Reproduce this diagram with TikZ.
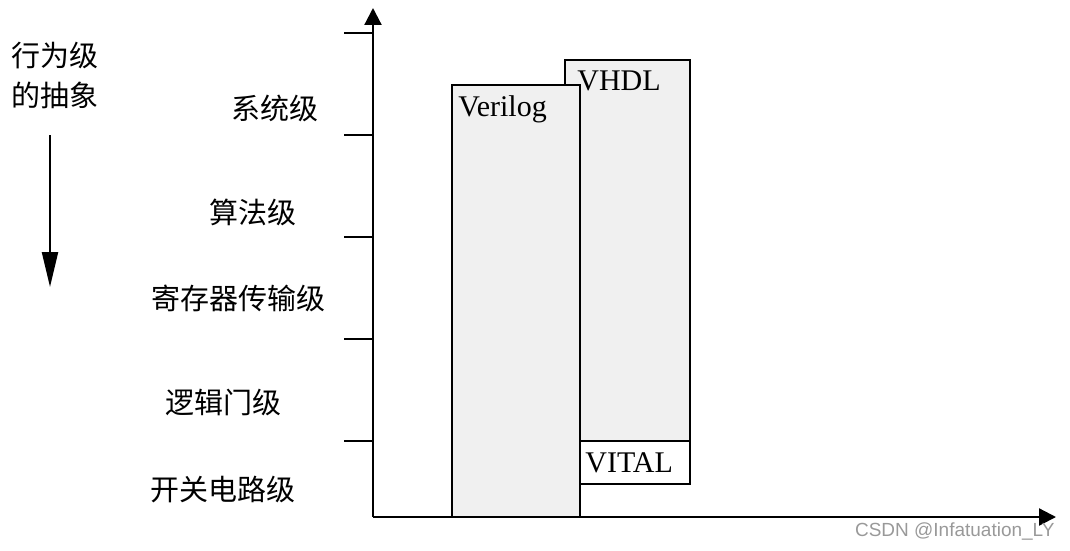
\documentclass[tikz,border=0pt]{standalone}
\usepackage{fontspec}
\setmainfont{Liberation Serif}
\newfontfamily\cjk{Noto Sans CJK SC}
\newfontfamily\wmfont{Liberation Sans}
\usetikzlibrary{arrows.meta}

\definecolor{boxgray}{HTML}{F0F0F0}

\tikzset{
    level/.style = {
        font=\cjk\fontsize{14.5}{20}\selectfont,
        inner sep=0pt
    },
    langbox/.style = {
        rectangle,
        anchor=north west,
        inner sep=0pt,
        outer sep=0pt,
        line width=1.1pt,
        draw=black,
        fill=boxgray
    },
    langname/.style = {
        anchor=north west,
        inner sep=0pt,
        font=\fontsize{15}{17}\selectfont
    },
    axis/.style = {
        line width=1.1pt,
        -{Triangle[width=8.5pt,length=8.5pt]}
    },
    downarrow/.style = {
        line width=1.1pt,
        -{Triangle[width=8pt,length=17.5pt]}
    }
}

\begin{document}
\begin{tikzpicture}[x=0.5pt, y=-0.5pt]
\useasboundingbox (0,0) rectangle (1070,551);

% Axes
\coordinate (origin) at (373,517);
\coordinate (ytop) at (373,8);
\coordinate (xend) at (1056,517);
\draw [axis] (origin) -- (ytop);
\draw [axis] (origin) -- (xend);
\foreach \y in {33,135,237,339,441}
    \draw [line width=1.1pt] (344,\y) -- (373,\y);

% Abstraction direction
\node (abs) [level, align=left] at (55,75) {行为级\\的抽象};
\coordinate (dtop) at (50,135);
\coordinate (dbot) at (50,287);
\draw [downarrow] (dtop) -- (dbot);

% Levels
\node (sys) [level] at (275,108) {系统级};
\node (alg) [level] at (253,212) {算法级};
\node (rtl) [level] at (238,298) {寄存器传输级};
\node (gate) [level] at (223,402) {逻辑门级};
\node (sw) [level] at (223,490) {开关电路级};

% Languages
\node (vhdl) [langbox, minimum width=62.5pt, minimum height=190.5pt] at (565,60) {};
\node (vital) [langbox, fill=white, minimum width=55.5pt, minimum height=21.5pt] at (579,441) {};
\node (verilog) [langbox, minimum width=64pt, minimum height=216pt] at (452,85) {};
\node [langname] at ([xshift=6pt,yshift=-5pt]vhdl.north west) {VHDL};
\node [langname] at ([xshift=3pt,yshift=-5pt]verilog.north west) {Verilog};
\node [langname, anchor=west] at ([xshift=3pt]vital.west) {VITAL};

% Watermark
\node (wm) [anchor=east, inner sep=0pt, text=gray!80, font=\wmfont\fontsize{9.5}{11}\selectfont] at (1055,531) {CSDN @Infatuation\_LY};

\end{tikzpicture}
\end{document}
